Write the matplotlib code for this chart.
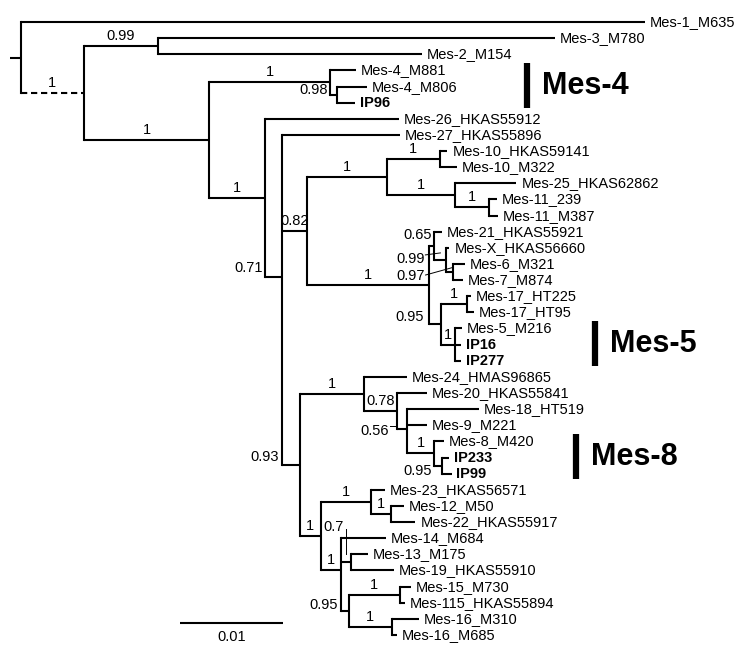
import matplotlib
matplotlib.use('Agg')
import matplotlib.pyplot as plt
import numpy as np

# Tips from top to bottom: label, parent node, branch length (substitutions/site)
tip_names = ['Mes-1_M635', 'Mes-3_M780', 'Mes-2_M154', 'Mes-4_M881', 'Mes-4_M806', 'IP96',
             'Mes-26_HKAS55912', 'Mes-27_HKAS55896', 'Mes-10_HKAS59141', 'Mes-10_M322',
             'Mes-25_HKAS62862', 'Mes-11_239', 'Mes-11_M387', 'Mes-21_HKAS55921',
             'Mes-X_HKAS56660', 'Mes-6_M321', 'Mes-7_M874', 'Mes-17_HT225', 'Mes-17_HT95',
             'Mes-5_M216', 'IP16', 'IP277', 'Mes-24_HMAS96865', 'Mes-20_HKAS55841',
             'Mes-18_HT519', 'Mes-9_M221', 'Mes-8_M420', 'IP233', 'IP99', 'Mes-23_HKAS56571',
             'Mes-12_M50', 'Mes-22_HKAS55917', 'Mes-14_M684', 'Mes-13_M175',
             'Mes-19_HKAS55910', 'Mes-15_M730', 'Mes-115_HKAS55894', 'Mes-16_M310',
             'Mes-16_M685']
tip_parents = ['root', 'B', 'B', 'M4', 'M4b', 'M4b', 'D', 'E', 'M10', 'M10', 'P', 'M11', 'M11',
               'K', 'L', 'M', 'M', 'M17', 'M17', 'M5', 'M5', 'M5', 'R', 'S', 'T', 'T', 'U',
               'V', 'V', 'X', 'Y', 'Y', 'Z', 'Z2', 'Z2', 'BB', 'BB', 'CC', 'CC']
tip_lengths = [0.0606, 0.0385, 0.0256, 0.0025, 0.0029, 0.0017, 0.0130, 0.0115, 0.0007, 0.0016,
               0.0060, 0.0008, 0.0009, 0.0008, 0.0003, 0.0012, 0.0010, 0.0004, 0.0007,
               0.0007, 0.0006, 0.0006, 0.0042, 0.0029, 0.0070, 0.0019, 0.0010, 0.0007,
               0.0009, 0.0013, 0.0013, 0.0024, 0.0043, 0.0017, 0.0042, 0.0011, 0.0005,
               0.0026, 0.0005]
bold_tips = ['IP96', 'IP16', 'IP277', 'IP233', 'IP99']

# Internal nodes: name, parent, branch length, posterior probability
node_names = ['root', 'A', 'B', 'C', 'M4', 'M4b', 'D', 'E', 'G', 'I', 'M10', 'P', 'M11', 'J',
              'K', 'L', 'M', 'N', 'M17', 'M5', 'H', 'R', 'S', 'T', 'U', 'V', 'W', 'X', 'Y',
              'Z', 'Z2', 'AA', 'BB', 'CC']
node_parents = [None, 'root', 'A', 'A', 'C', 'M4', 'C', 'D', 'E', 'G', 'I', 'I', 'P', 'G',
                'J', 'K', 'L', 'J', 'N', 'N', 'E', 'H', 'R', 'S', 'T', 'U', 'H', 'W', 'X',
                'W', 'Z', 'Z', 'AA', 'AA']
node_lengths = [0.0, 0.0061, 0.0072, 0.0122, 0.0117, 0.0007, 0.0054, 0.0016, 0.0025, 0.0077,
                0.0052, 0.0066, 0.0033, 0.0118, 0.0005, 0.0012, 0.0006, 0.0012, 0.0025,
                0.0013, 0.0018, 0.0062, 0.0032, 0.0010, 0.0026, 0.0008, 0.0020, 0.0049,
                0.0019, 0.0020, 0.0009, 0.0007, 0.0050, 0.0042]
node_support = [None, 1, 0.99, 1, 1, 0.98, 1, 0.71, 0.82, 1, 1, 1, 1, 1, 0.65, 0.99, 0.97,
                0.95, 1, 1, 0.93, 1, 0.78, 0.56, 1, 0.95, 1, 1, 1, 1, 0.7, 0.95, 1, 1]

# Clades marked with a bar
clade_names = ['Mes-4', 'Mes-5', 'Mes-8']
clade_first = ['Mes-4_M881', 'Mes-5_M216', 'Mes-8_M420']
clade_last = ['IP96', 'IP277', 'IP99']

scale_length = 0.01

plt.rcParams['font.family'] = ['Liberation Sans', 'DejaVu Sans']

# size of one pixel in data units
UX = 0.01 / 103   # substitutions per pixel
UY = 1 / 16.13    # tip rows per pixel

# Build the tree
parent = dict(zip(node_names, node_parents))
parent.update(zip(tip_names, tip_parents))
length = dict(zip(node_names, node_lengths))
length.update(zip(tip_names, tip_lengths))
support = dict(zip(node_names, node_support))

children = {n: [] for n in node_names}
for n in node_names + tip_names:
    if parent[n] is not None:
        children[parent[n]].append(n)

xpos = {}
def get_x(n):
    if n not in xpos:
        p = parent[n]
        xpos[n] = 0.0 if p is None else get_x(p) + length[n]
    return xpos[n]

ypos = {t: i for i, t in enumerate(tip_names)}
def get_y(n):
    if n not in ypos:
        ypos[n] = np.mean([get_y(c) for c in children[n]])
    return ypos[n]

for n in node_names + tip_names:
    get_x(n)
    get_y(n)

fig = plt.figure(figsize=(7.56, 6.66), dpi=100)
ax = fig.add_axes([0, 0, 1, 1])
ax.set_xlim(-21 * UX, 735 * UX)
ax.set_ylim(644 * UY, -22 * UY)
ax.axis('off')

LW = 1.5
FS = 10.5

# vertical lines of the nodes
for n in node_names:
    ys = [ypos[c] for c in children[n]]
    ax.plot([xpos[n], xpos[n]], [min(ys), max(ys)], color='black', lw=LW,
            solid_capstyle='projecting')

# horizontal branches
for n in node_names[1:] + tip_names:
    p = parent[n]
    if n == 'A':
        # shortened branch
        ax.plot([xpos[p], xpos[n]], [ypos[n]] * 2, color='black', lw=LW,
                linestyle=(0, (3, 1.8)))
    else:
        ax.plot([xpos[p], xpos[n]], [ypos[n]] * 2, color='black', lw=LW,
                solid_capstyle='butt')

# root stub
ax.plot([-11 * UX, 0], [ypos['root']] * 2, color='black', lw=LW, solid_capstyle='butt')

# tip labels
for t in tip_names:
    ax.annotate(t, (xpos[t], ypos[t]), xytext=(3.5, 0), textcoords='offset points',
                ha='left', va='center', fontsize=FS,
                fontweight='bold' if t in bold_tips else 'normal')

# support values; offsets in pixels (positive = down)
label_style = {
    'M4b': ('left', -2, -5),
    'E': ('left', -2, -9),
    'H': ('left', -3, -8),
    'N': ('left', -5, -7.5),
    'V': ('left', -2, 5.5),
    'AA': ('left', -3, -6),
    'K': ('node', -2, -11),
}
# text right edge, leader start, leader end (px from the node)
leaders = {
    'L': ((-22, -1), (-21, -5), (-6, -7)),
    'M': ((-28, 3.5), (-27, 3), (0, -4.5)),
    'T': ((-18, 2), (-17, -3), (-10, -3)),
    'Z2': ((-7, -35.5), (-5, -33.5), (-5, -8.5)),
}
for n in node_names[1:]:
    s = support[n]
    if s is None:
        continue
    txt = '{:g}'.format(s)
    x, y = xpos[n], ypos[n]
    px = xpos[parent[n]]
    if n in leaders:
        (tx, ty), (ax0, ay0), (ax1, ay1) = leaders[n]
        ax.text(x + tx * UX, y + ty * UY, txt, ha='right', va='center', fontsize=FS)
        ax.plot([x + ax0 * UX, x + ax1 * UX], [y + ay0 * UY, y + ay1 * UY],
                color='black', lw=0.7)
    elif n in label_style:
        mode, dx, dy = label_style[n]
        bx = px if mode == 'left' else x
        ax.text(bx + dx * UX, y + dy * UY, txt, ha='right', va='center', fontsize=FS)
    else:
        ax.text((px + x) / 2, y - 10 * UY, txt, ha='center', va='center', fontsize=FS)

# clade bars
bar_x = [0.0491, 0.0557, 0.0539]
for name, first, last, bx in zip(clade_names, clade_first, clade_last, bar_x):
    y0 = ypos[first] - 7 * UY
    y1 = ypos[last] + 5 * UY
    ax.plot([bx, bx], [y0, y1], color='black', lw=4.5, solid_capstyle='butt')
    ax.text(bx + 15 * UX, (y0 + y1) / 2, name, ha='left', va='center',
            fontsize=22, fontweight='bold')

# scale bar
sx = (180 - 21) * UX
sy = (623 - 22) * UY
ax.plot([sx, sx + scale_length], [sy, sy], color='black', lw=LW, solid_capstyle='butt')
ax.text(sx + scale_length / 2, sy + 14 * UY, '{:g}'.format(scale_length),
        ha='center', va='center', fontsize=FS)

fig.savefig('out.png', dpi=100, facecolor='white')
